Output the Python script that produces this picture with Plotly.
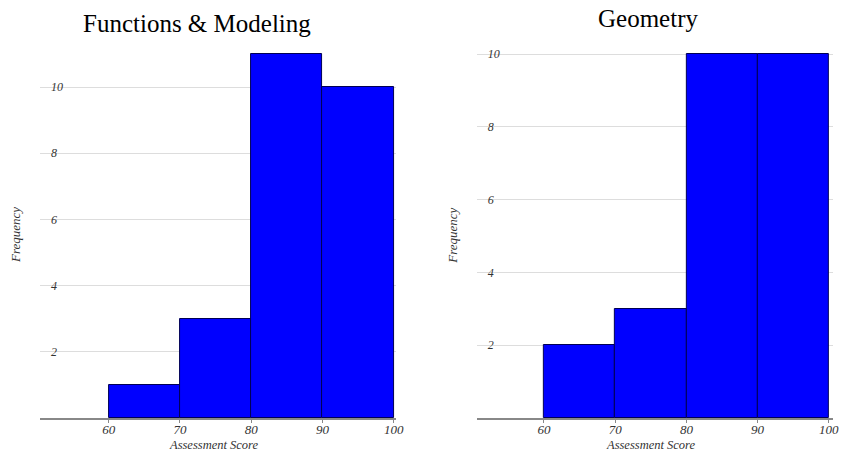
import plotly.graph_objects as go

bin_centers = [65, 75, 85, 95]
functions_freq = [1, 3, 11, 10]
geometry_freq = [2, 3, 10, 10]
x_ticks = [60, 70, 80, 90, 100]
y_ticks = [2, 4, 6, 8, 10]

W, H = 846, 460
WX = 836.5  # horizontal correction observed in the rendered page
SERIF = "Liberation Serif, Times New Roman, serif"

fig = go.Figure()
fig.add_trace(go.Bar(x=bin_centers, y=functions_freq, width=10,
                     marker=dict(color="#0000ff", line=dict(color="#000055", width=1)),
                     xaxis="x", yaxis="y", showlegend=False))
fig.add_trace(go.Bar(x=bin_centers, y=geometry_freq, width=10,
                     marker=dict(color="#0000ff", line=dict(color="#000055", width=1)),
                     xaxis="x2", yaxis="y2", showlegend=False))

def xax(dom, rng):
    return dict(domain=dom, range=rng, tickvals=x_ticks,
                showgrid=False, zeroline=False, showline=True,
                linecolor="#888888", linewidth=2, ticks="outside",
                ticklen=3, tickcolor="#888888", ticklabelstandoff=-5,
                tickfont=dict(family=SERIF, size=13, color="#333333", style="italic"))

def yax(dom, rng, anchor):
    return dict(domain=dom, range=rng, tickvals=y_ticks, anchor=anchor,
                showgrid=True, gridcolor="#dddddd", gridwidth=1, zeroline=False,
                showline=False, ticklabelposition="inside", ticks="",
                ticklabelstandoff=8,
                tickfont=dict(family=SERIF, size=12, color="#333333", style="italic"))

def ann(text, x, y, size, angle=0, italic=True, color="#333333"):
    return dict(text=text, x=x / WX, y=(H - y) / H, xref="paper", yref="paper",
                xanchor="center", yanchor="middle", showarrow=False, textangle=angle,
                font=dict(family=SERIF, size=size, color=color,
                          style="italic" if italic else "normal"))

# y: 0 at 418 px, 2 units = 66.2 px (left), 72.8 px (right); headroom keeps top labels visible
fig.update_layout(
    width=W, height=H, margin=dict(l=0, r=0, t=0, b=0),
    plot_bgcolor="white", paper_bgcolor="white", bargap=0,
    xaxis=dict(**xax([40 / WX, 395 / WX], [50.38, 100.27]), anchor="y"),
    yaxis=yax([42 / H, 414 / H], [0, 11.24], "x"),
    xaxis2=dict(**xax([476 / WX, 832 / WX], [50.57, 100.66]), anchor="y2"),
    yaxis2=yax([42 / H, 414 / H], [0, 10.22], "x2"),
    annotations=[
        ann("Functions & Modeling", 197, 23, 25, italic=False, color="black"),
        ann("Geometry", 647, 19, 25, italic=False, color="black"),
        ann("Frequency", 15, 235, 13, angle=-90),
        ann("Frequency", 452, 236, 13, angle=-90),
        ann("Assessment Score", 214, 445, 12.5),
        ann("Assessment Score", 650, 445, 12.5),
    ],
)

fig.write_html("out.html")
